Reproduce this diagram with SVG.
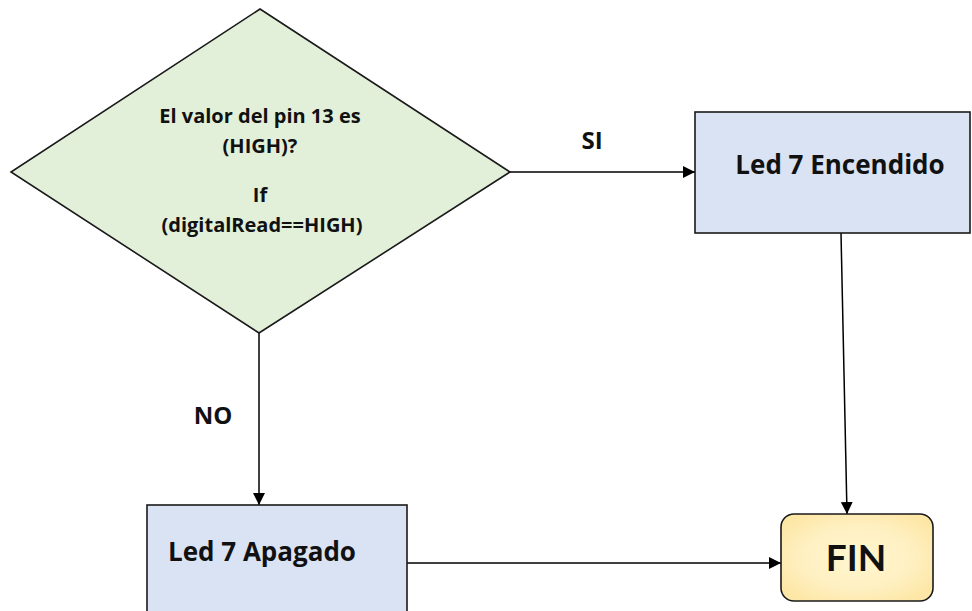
<svg xmlns="http://www.w3.org/2000/svg" width="972" height="611" viewBox="0 0 972 611">
  <defs>
    <marker id="arrow" viewBox="0 0 10 10" refX="10" refY="5" markerWidth="12" markerHeight="12" markerUnits="userSpaceOnUse" orient="auto">
      <path d="M0,0 L10,5 L0,10 z" fill="#000"/>
    </marker>
    <radialGradient id="finFill" cx="0.5" cy="0.5" r="0.6">
      <stop offset="0" stop-color="#fff6cf"/>
      <stop offset="0.6" stop-color="#fff0c2"/>
      <stop offset="1" stop-color="#fde7a6"/>
    </radialGradient>
  </defs>
  <style>
    .shape { stroke: #1a1a1a; stroke-width: 1.6; }
    .conn { stroke: #000; stroke-width: 1.5; fill: none; marker-end: url(#arrow); }
    text { font-family: "Open Sans", "Liberation Sans", sans-serif; font-weight: bold; fill: #111; text-anchor: middle; }
    .small { font-size: 20px; }
    .box { font-size: 26px; }
    .lbl { font-size: 24px; }
    .fin { font-family: "Lato", "Open Sans", sans-serif; font-size: 37px; }
  </style>
  <rect width="972" height="611" fill="#fff"/>

  <g id="connectors">
    <line class="conn" x1="510" y1="172" x2="695" y2="172"/>
    <line class="conn" x1="259" y1="333" x2="259" y2="505"/>
    <line class="conn" x1="841" y1="233" x2="847" y2="514"/>
    <line class="conn" x1="407" y1="563" x2="781" y2="563"/>
    <text class="lbl" x="592" y="149">SI</text>
    <text class="lbl" x="213" y="424">NO</text>
  </g>

  <g id="decision">
    <polygon class="shape" points="260,9 510,172 259,333 11,172" fill="#e2efd9"/>
    <text class="small" x="260" y="123">El valor del pin 13 es</text>
    <text class="small" x="260" y="153">(HIGH)?</text>
    <text class="small" x="260" y="202">If</text>
    <text class="small" x="262" y="232">(digitalRead==HIGH)</text>
  </g>

  <g id="led-on">
    <rect class="shape" x="695" y="112" width="275" height="121" fill="#dae3f3"/>
    <text class="box" x="840" y="174">Led 7 Encendido</text>
  </g>

  <g id="led-off">
    <rect class="shape" x="147" y="505" width="260" height="112" fill="#dae3f3"/>
    <text class="box" x="262" y="561">Led 7 Apagado</text>
  </g>

  <g id="fin">
    <rect class="shape" x="781" y="514" width="152" height="87" rx="13" ry="13" fill="url(#finFill)"/>
    <text class="fin" x="856" y="571">FIN</text>
  </g>
</svg>
